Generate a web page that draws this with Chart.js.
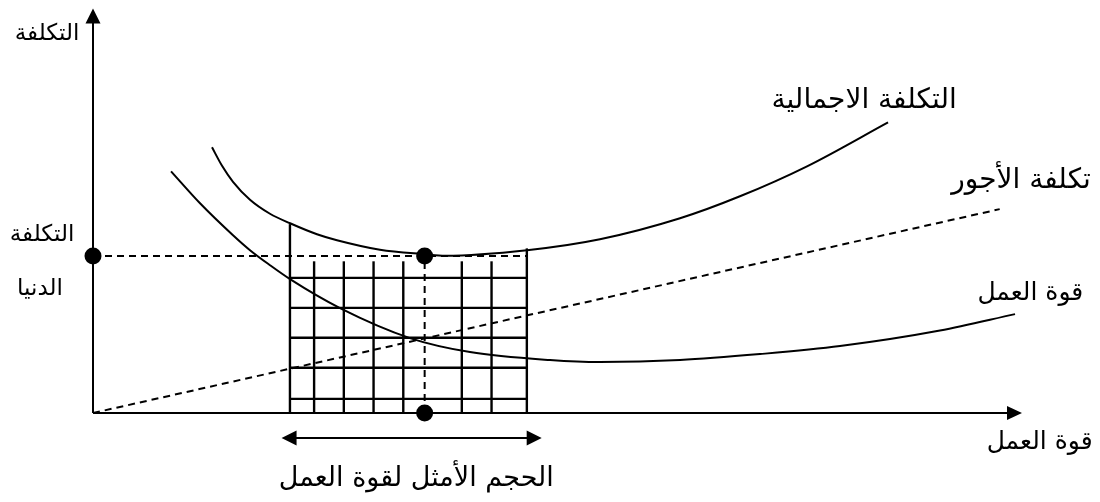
<!DOCTYPE html>
<html lang="ar">
<head>
<meta charset="utf-8">
<script src="https://cdn.jsdelivr.net/npm/chart.js@4/dist/chart.umd.min.js"></script>
<style>
  html, body { margin: 0; padding: 0; background: #ffffff; }
  #wrap { width: 1100px; height: 502px; }
</style>
</head>
<body>
<div id="wrap"><canvas id="c" width="1100" height="502"></canvas></div>
<script>
// ---- data (abstract units: labour quantity 0..100, cost 0..100) ----
const totalCostX = [12.81, 13.89, 15.07, 16.90, 19.05, 21.21, 24.11, 26.26, 30.89, 35.74, 37.89, 46.72, 54.57, 63.19, 69.64, 76.86, 85.58];
const totalCostY = [65.68, 61.11, 57.16, 52.72, 49.26, 46.91, 44.20, 42.72, 40.37, 39.26, 38.89, 40.25, 42.96, 48.15, 53.58, 60.99, 71.85];

const labourX = [8.40, 11.52, 15.07, 16.90, 19.05, 21.21, 26.59, 34.12, 40.58, 49.19, 54.57, 63.19, 71.80, 80.41, 91.17, 99.25];
const labourY = [59.75, 51.85, 43.95, 40.25, 36.54, 33.09, 25.93, 18.52, 15.06, 13.09, 12.59, 13.09, 14.57, 16.54, 20.37, 24.44];

const wageX = [0, 97.6];
const wageY = [0, 50.4];

const optimumX = 35.7;
const optimumY = 38.8;

// grid (hatched region of optimal labour size)
const gridVerticalX   = [21.2, 23.8, 27.0, 30.2, 33.4, 39.7, 42.9, 46.7];
const gridVerticalTop = [46.7, 37.5, 37.5, 37.5, 37.5, 37.5, 37.5, 40.7];
const gridHorizontalY = [33.4, 26.0, 18.6, 11.2, 3.5];
const gridLeft = 21.2, gridRight = 46.7;

// optimal range arrow
const rangeArrowX = [20.3, 48.3];

// text labels
const labelYAxis = 'التكلفة';
const labelMinCost = ['التكلفة', 'الدنيا'];
const labelTotalCost = 'التكلفة الاجمالية';
const labelWageCost = 'تكلفة الأجور';
const labelLabourCurve = 'قوة العمل';
const labelXAxis = 'قوة العمل';
const labelOptimal = 'الحجم الأمثل لقوة العمل';

// ---- build datasets ----
const pts = (xs, ys) => xs.map((x, i) => ({ x: x, y: ys[i] }));
const datasets = [];

datasets.push({ data: pts(totalCostX, totalCostY), showLine: true, borderColor: '#000', borderWidth: 2, pointRadius: 0, cubicInterpolationMode: 'monotone', clip: false });
datasets.push({ data: pts(labourX, labourY), showLine: true, borderColor: '#000', borderWidth: 2, pointRadius: 0, cubicInterpolationMode: 'monotone', clip: false });
datasets.push({ data: pts(wageX, wageY), showLine: true, borderColor: '#000', borderWidth: 2, borderDash: [7, 5], pointRadius: 0, clip: false });

gridVerticalX.forEach((x, i) => {
  datasets.push({ data: [{ x: x, y: 0 }, { x: x, y: gridVerticalTop[i] }], showLine: true, borderColor: '#000', borderWidth: 2.4, pointRadius: 0, clip: false });
});
gridHorizontalY.forEach((y) => {
  datasets.push({ data: [{ x: gridLeft, y: y }, { x: gridRight, y: y }], showLine: true, borderColor: '#000', borderWidth: 2.4, pointRadius: 0, clip: false });
});

// dashed guides from optimum
datasets.push({ data: [{ x: 0, y: optimumY }, { x: gridRight, y: optimumY }], showLine: true, borderColor: '#000', borderWidth: 2, borderDash: [7, 5], pointRadius: 0, clip: false });
datasets.push({ data: [{ x: optimumX, y: 0 }, { x: optimumX, y: optimumY }], showLine: true, borderColor: '#000', borderWidth: 2, borderDash: [7, 5], pointRadius: 0, clip: false });

// dots
datasets.push({ data: [{ x: optimumX, y: optimumY }, { x: 0, y: optimumY }, { x: optimumX, y: 0 }], showLine: false, pointRadius: 8.5, pointBackgroundColor: '#000', pointBorderColor: '#000', borderWidth: 0, clip: false });

const FONT = '"DejaVu Sans", "Noto Sans", sans-serif';

const diagramPlugin = {
  id: 'diagram',
  afterDatasetsDraw(chart) {
    const ctx = chart.ctx;
    const xs = chart.scales.x, ys = chart.scales.y;
    const ca = chart.chartArea;
    const X = v => xs.getPixelForValue(v);
    const Y = v => ys.getPixelForValue(v);
    const ox = X(0), oy = Y(0);
    ctx.save();
    ctx.strokeStyle = '#000';
    ctx.fillStyle = '#000';
    ctx.lineWidth = 2;
    // y axis
    ctx.beginPath(); ctx.moveTo(ox, oy); ctx.lineTo(ox, ca.top + 12); ctx.stroke();
    ctx.beginPath(); ctx.moveTo(ox, ca.top); ctx.lineTo(ox - 7.5, ca.top + 15); ctx.lineTo(ox + 7.5, ca.top + 15); ctx.closePath(); ctx.fill();
    // x axis
    ctx.beginPath(); ctx.moveTo(ox, oy); ctx.lineTo(ca.right - 12, oy); ctx.stroke();
    ctx.beginPath(); ctx.moveTo(ca.right, oy); ctx.lineTo(ca.right - 15, oy - 7); ctx.lineTo(ca.right - 15, oy + 7); ctx.closePath(); ctx.fill();
    // double arrow under the grid
    const ay = oy + 25;
    const ax1 = X(rangeArrowX[0]), ax2 = X(rangeArrowX[1]);
    ctx.beginPath(); ctx.moveTo(ax1 + 12, ay); ctx.lineTo(ax2 - 12, ay); ctx.stroke();
    ctx.beginPath(); ctx.moveTo(ax1, ay); ctx.lineTo(ax1 + 15, ay - 7.5); ctx.lineTo(ax1 + 15, ay + 7.5); ctx.closePath(); ctx.fill();
    ctx.beginPath(); ctx.moveTo(ax2, ay); ctx.lineTo(ax2 - 15, ay - 7.5); ctx.lineTo(ax2 - 15, ay + 7.5); ctx.closePath(); ctx.fill();

    // texts
    ctx.textAlign = 'center';
    ctx.textBaseline = 'middle';
    const T = (s, x, y, size) => { ctx.font = size + 'px ' + FONT; ctx.fillText(s, x, y); };
    T(labelYAxis, ox - 46, ca.top + 26, 23);
    T(labelMinCost[0], ox - 51, Y(optimumY) - 21, 23);
    T(labelMinCost[1], ox - 53, Y(optimumY) + 33, 23);
    T(labelTotalCost, X(83.0), Y(77.3), 28);
    T(labelWageCost, X(99.9), Y(57.5), 28);
    T(labelLabourCurve, X(100.9), Y(29.6), 25);
    T(labelXAxis, X(101.9), oy + 29, 25);
    T(labelOptimal, X(34.8), oy + 66, 27);
    ctx.restore();
  }
};

new Chart(document.getElementById('c'), {
  type: 'scatter',
  data: { datasets: datasets },
  options: {
    responsive: false,
    animation: false,
    devicePixelRatio: 1,
    layout: { padding: { left: 93, right: 78, top: 8, bottom: 89 } },
    plugins: { legend: { display: false }, tooltip: { enabled: false } },
    scales: {
      x: { type: 'linear', min: 0, max: 100, display: false },
      y: { type: 'linear', min: 0, max: 100, display: false }
    }
  },
  plugins: [diagramPlugin]
});
</script>
</body>
</html>
